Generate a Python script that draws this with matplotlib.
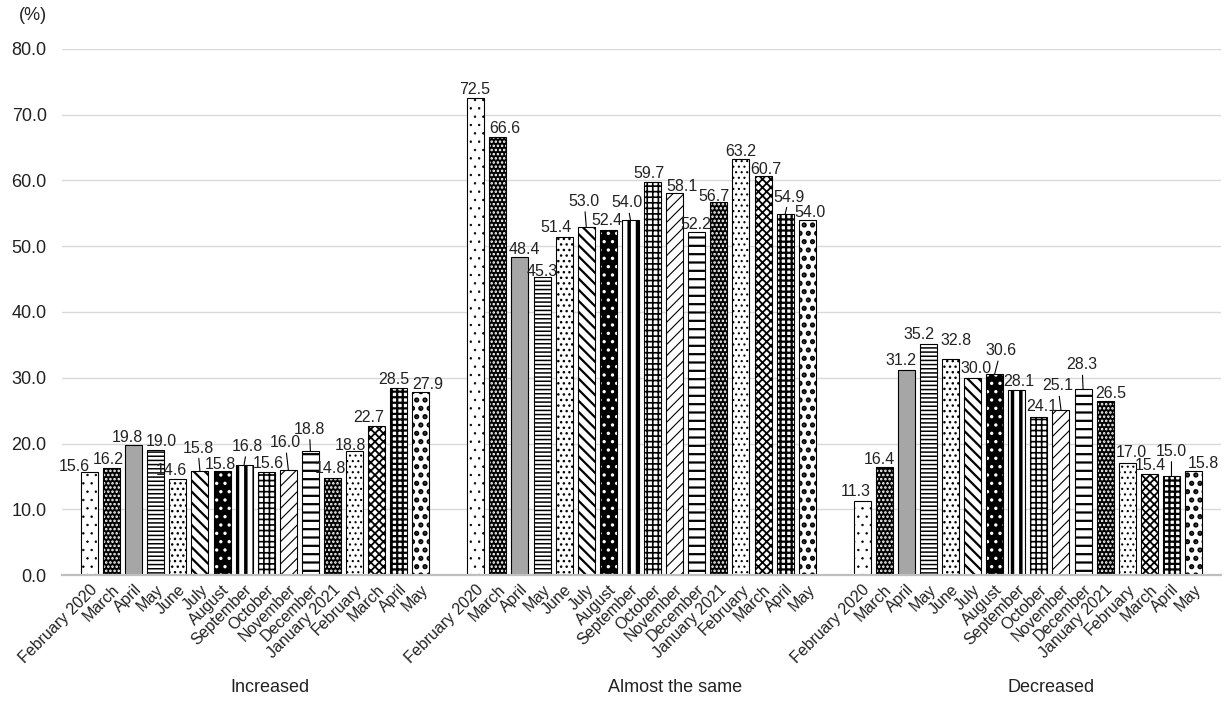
import numpy as np
import matplotlib
matplotlib.use("Agg")
from matplotlib import pyplot as plt

plt.rcParams["font.family"] = ["Liberation Sans", "DejaVu Sans"]

groups = ["Increased", "Almost the same", "Decreased"]
months = ["February 2020", "March", "April", "May", "June", "July", "August",
          "September", "October", "November", "December", "January 2021",
          "February", "March", "April", "May"]

increased = [15.6, 16.2, 19.8, 19.0, 14.6, 15.8, 15.8, 16.8,
             15.6, 16.0, 18.8, 14.8, 18.8, 22.7, 28.5, 27.9]
same = [72.5, 66.6, 48.4, 45.3, 51.4, 53.0, 52.4, 54.0,
        59.7, 58.1, 52.2, 56.7, 63.2, 60.7, 54.9, 54.0]
decreased = [11.3, 16.4, 31.2, 35.2, 32.8, 30.0, 30.6, 28.1,
             24.1, 25.1, 28.3, 26.5, 17.0, 15.4, 15.0, 15.8]

# face colour, hatch colour, hatch, hatch line width (one per month)
styles = [
    ("white", "black", "..", 0.5),
    ("black", "white", "....", 1.2),
    ("#a6a6a6", "#a6a6a6", "", 1.0),
    ("white", "black", "----", 1.1),
    ("white", "black", "...", 1.0),
    ("white", "black", "\\\\\\", 1.6),
    ("black", "white", "..", 1.2),
    ("white", "black", "||", 2.5),
    ("white", "black", "+++", 1.2),
    ("white", "black", "///", 0.8),
    ("white", "black", "--", 1.6),
    ("black", "white", "....", 1.2),
    ("white", "black", "...", 0.8),
    ("white", "black", "xxxx", 1.3),
    ("white", "black", "+++", 1.6),
    ("white", "black", "..", 2.5),
]

# label nudges in pixels (dx, dy up) and whether a leader line is drawn
nudges = [
    [(-15, -3, 0), (-3, 0, 0), (-6, -2, 0), (6, 0, 0), (-6, 0, 0), (-2, 14, 1),
     (-2, -2, 0), (3, 9, 1), (2, 0, 0), (-3, 18, 1), (-1, 13, 1), (-2, 0, 0),
     (-4, -3, 0), (-8, -1, 0), (-5, -1, 0), (7, -2, 0)],
    [(-1, 0, 0), (7, 0, 0), (4, -2, 0), (0, -3, 0), (-8, 1, 0), (-2, 16, 1),
     (-1, 1, 0), (-3, 8, 1), (-4, 0, 0), (7, -3, 0), (-1, -2, 0), (-5, -3, 0),
     (0, -1, 0), (3, -3, 0), (4, 8, 1), (3, -2, 0)],
    [(-6, 0, 0), (-5, -1, 0), (-5, 0, 0), (-9, 0, 0), (6, 10, 0), (3, 0, 0),
     (6, 14, 1), (2, 0, 0), (3, 1, 0), (-3, 15, 1), (-1, 15, 1), (6, -2, 0),
     (4, 2, 0), (1, -1, 0), (0, 16, 1), (10, -1, 0)],
]

text_color = "#222222"
step = 0.0572
width = 0.044
px = 0.72  # points per pixel at dpi 100

fig = plt.figure(figsize=(12.29, 7.02), dpi=100)
ax = fig.add_axes([62 / 1229, 127 / 702, 1159 / 1229, 526 / 702])

data = np.array([increased, same, decreased])
group_x = np.arange(len(groups))

tick_pos = []
tick_lab = []
for i, (face, hcol, hatch, hlw) in enumerate(styles):
    xs = group_x + (i - 7.5) * step
    with plt.rc_context({"hatch.linewidth": hlw}):
        bars = ax.bar(xs, data[:, i], width, color=face, edgecolor=hcol,
                      hatch=hatch, linewidth=0, zorder=2)
    for b in bars:
        if hasattr(b, "set_hatch_linewidth"):
            b.set_hatch_linewidth(hlw)
    ax.bar(xs, data[:, i], width, fill=False, edgecolor="black",
           linewidth=0.8, zorder=3)
    for g in range(len(groups)):
        dx, dy, lead = nudges[g][i]
        props = None
        if lead:
            props = dict(arrowstyle="-", color="black", lw=0.8,
                         shrinkA=0, shrinkB=0)
        ax.annotate(f"{data[g, i]:.1f}", (xs[g], data[g, i]),
                    xytext=(dx * px, (9 + dy) * px), textcoords="offset points",
                    ha="center", va="center", fontsize=11.5, color=text_color,
                    arrowprops=props, zorder=4)

for g in range(len(groups)):
    for i, m in enumerate(months):
        tick_pos.append(group_x[g] + (i - 7.5) * step)
        tick_lab.append(m)

ax.set_xlim(-0.5, 2.5)
ax.set_ylim(0, 80)
ax.set_yticks(np.arange(0, 81, 10))
ax.set_yticklabels([f"{v:.1f}" for v in np.arange(0, 81, 10)],
                   fontsize=13, color=text_color)
ax.set_xticks(tick_pos)
ax.set_xticklabels(tick_lab, rotation=45, ha="right", va="top",
                   rotation_mode="anchor", fontsize=11.5, color=text_color)
ax.tick_params(axis="both", length=0)
ax.tick_params(axis="y", pad=11)
ax.tick_params(axis="x", pad=5)

ax.grid(axis="y", color="#d9d9d9", linewidth=1)
ax.set_axisbelow(True)
for s in ["left", "right", "top"]:
    ax.spines[s].set_visible(False)
ax.spines["bottom"].set_color("#bfbfbf")
ax.spines["bottom"].set_linewidth(1.6)
ax.spines["bottom"].set_zorder(5)

fig.text(33 / 1229, 1 - 15 / 702, "(%)", ha="center", va="center",
         fontsize=13, color=text_color)
for name, gx in zip(groups, [270, 675, 1051]):
    fig.text(gx / 1229, 1 - 687 / 702, name, ha="center", va="center",
             fontsize=13, color=text_color)

fig.savefig("out.png", dpi=100)
